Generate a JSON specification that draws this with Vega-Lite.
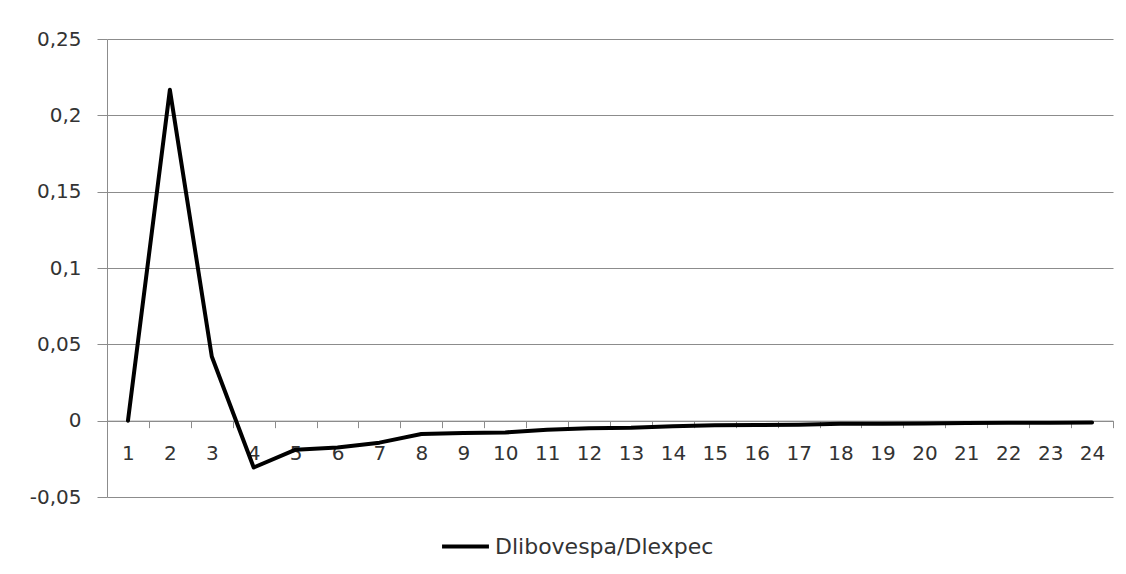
{
  "$schema": "https://vega.github.io/schema/vega-lite/v6.json",
  "width": 1006,
  "height": 458,
  "autosize": {"type": "none"},
  "padding": {"left": 107, "top": 39, "right": 13, "bottom": 77},
  "background": "white",
  "data": {
    "values": [
      {"period": 1, "value": 0, "series": "Dlibovespa/Dlexpec"},
      {"period": 2, "value": 0.2167, "series": "Dlibovespa/Dlexpec"},
      {"period": 3, "value": 0.042, "series": "Dlibovespa/Dlexpec"},
      {"period": 4, "value": -0.0307, "series": "Dlibovespa/Dlexpec"},
      {"period": 5, "value": -0.019, "series": "Dlibovespa/Dlexpec"},
      {"period": 6, "value": -0.0176, "series": "Dlibovespa/Dlexpec"},
      {"period": 7, "value": -0.0144, "series": "Dlibovespa/Dlexpec"},
      {"period": 8, "value": -0.0087, "series": "Dlibovespa/Dlexpec"},
      {"period": 9, "value": -0.008, "series": "Dlibovespa/Dlexpec"},
      {"period": 10, "value": -0.0077, "series": "Dlibovespa/Dlexpec"},
      {"period": 11, "value": -0.006, "series": "Dlibovespa/Dlexpec"},
      {"period": 12, "value": -0.0049, "series": "Dlibovespa/Dlexpec"},
      {"period": 13, "value": -0.0047, "series": "Dlibovespa/Dlexpec"},
      {"period": 14, "value": -0.0037, "series": "Dlibovespa/Dlexpec"},
      {"period": 15, "value": -0.003, "series": "Dlibovespa/Dlexpec"},
      {"period": 16, "value": -0.0028, "series": "Dlibovespa/Dlexpec"},
      {"period": 17, "value": -0.0026, "series": "Dlibovespa/Dlexpec"},
      {"period": 18, "value": -0.0021, "series": "Dlibovespa/Dlexpec"},
      {"period": 19, "value": -0.002, "series": "Dlibovespa/Dlexpec"},
      {"period": 20, "value": -0.0019, "series": "Dlibovespa/Dlexpec"},
      {"period": 21, "value": -0.0015, "series": "Dlibovespa/Dlexpec"},
      {"period": 22, "value": -0.0014, "series": "Dlibovespa/Dlexpec"},
      {"period": 23, "value": -0.0013, "series": "Dlibovespa/Dlexpec"},
      {"period": 24, "value": -0.0012, "series": "Dlibovespa/Dlexpec"}
    ]
  },
  "mark": {"type": "line", "strokeWidth": 4, "strokeJoin": "round", "strokeCap": "round"},
  "encoding": {
    "x": {
      "field": "period",
      "type": "ordinal",
      "bandPosition": 0.5,
      "scale": {"type": "band", "paddingInner": 0, "paddingOuter": 0},
      "axis": {
        "title": null,
        "labelAngle": 0,
        "offset": -76.33,
        "tickBand": "extent",
        "tickSize": 7,
        "labelPadding": 16,
        "grid": false,
        "domainColor": "#8c8c8c",
        "tickColor": "#8c8c8c",
        "labelFont": "DejaVu Sans",
        "labelFontSize": 20,
        "labelColor": "#333333"
      }
    },
    "y": {
      "field": "value",
      "type": "quantitative",
      "scale": {"domain": [-0.05, 0.25], "nice": false, "zero": false},
      "axis": {
        "title": null,
        "values": [-0.05, 0, 0.05, 0.1, 0.15, 0.2, 0.25],
        "format": ".2~f",
        "tickSize": 10,
        "labelPadding": 16,
        "grid": true,
        "gridColor": "#8c8c8c",
        "domainColor": "#8c8c8c",
        "tickColor": "#8c8c8c",
        "labelFont": "DejaVu Sans",
        "labelFontSize": 20,
        "labelColor": "#333333"
      }
    },
    "color": {
      "field": "series",
      "type": "nominal",
      "scale": {"range": ["#000000"]},
      "legend": {
        "title": null,
        "orient": "none",
        "legendX": 333,
        "legendY": 482,
        "symbolType": "stroke",
        "symbolSize": 2200,
        "symbolStrokeWidth": 4,
        "labelFont": "DejaVu Sans",
        "labelFontSize": 22,
        "labelColor": "#333333",
        "labelOffset": 4,
        "labelLimit": 500
      }
    }
  },
  "config": {
    "locale": {
      "number": {"decimal": ",", "thousands": ".", "grouping": [3], "currency": ["", ""], "minus": "-"}
    },
    "view": {"stroke": null}
  }
}
